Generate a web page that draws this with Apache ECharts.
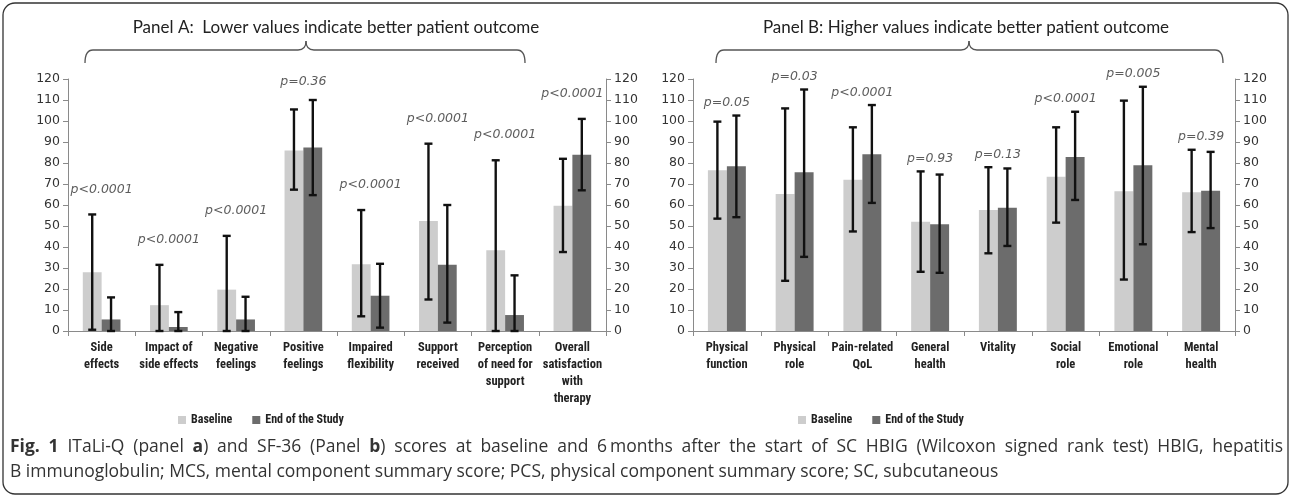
<!DOCTYPE html>
<html><head><meta charset="utf-8">
<script src="https://cdn.jsdelivr.net/npm/echarts@6/dist/echarts.min.js"></script>
<style>html,body{margin:0;padding:0;background:#fff}#c{width:1292px;height:498px}</style>
</head><body><div id="c"></div>
<script>
// ---- Panel A (ITaLi-Q) ----
const catsA = ['Side\neffects', 'Impact of\nside effects', 'Negative\nfeelings', 'Positive\nfeelings', 'Impaired\nflexibility', 'Support\nreceived', 'Perception\nof need for\nsupport', 'Overall\nsatisfaction\nwith\ntherapy'];
const baseA = [28, 12.3, 19.7, 86, 31.8, 52.4, 38.5, 59.7];
const baseAHigh = [55.5, 31.5, 45.3, 105.5, 57.6, 89.2, 81.3, 82];
const baseALow = [0.6, 0, 0, 67.3, 7, 15, 0, 37.6];
const endA = [5.5, 1.9, 5.5, 87.4, 16.8, 31.6, 7.6, 83.9];
const endAHigh = [16, 9, 16.3, 110, 32, 60, 26.5, 101];
const endALow = [0, 0, 0, 64.7, 1.6, 4, 0, 67];
const pA = ['p<0.0001', 'p<0.0001', 'p<0.0001', 'p=0.36', 'p<0.0001', 'p<0.0001', 'p<0.0001', 'p<0.0001'];

// ---- Panel B (SF-36) ----
const catsB = ['Physical\nfunction', 'Physical\nrole', 'Pain-related\nQoL', 'General\nhealth', 'Vitality', 'Social\nrole', 'Emotional\nrole', 'Mental\nhealth'];
const baseB = [76.6, 65.2, 72, 52, 57.6, 73.5, 66.6, 66.1];
const baseBHigh = [99.7, 106, 97, 76, 78, 97, 109.7, 86.3];
const baseBLow = [53.5, 23.9, 47.4, 28.2, 37, 51.6, 24.5, 47.1];
const endB = [78.5, 75.6, 84.2, 50.8, 58.7, 82.9, 78.9, 66.8];
const endBHigh = [102.6, 115, 107.6, 74.5, 77.4, 104.4, 116.3, 85.3];
const endBLow = [54.2, 35.3, 61, 27.7, 40.5, 62.4, 41.3, 49];
const pB = ['p=0.05', 'p=0.03', 'p<0.0001', 'p=0.93', 'p=0.13', 'p<0.0001', 'p=0.005', 'p=0.39'];

const yTicks = [0, 120, 10]; // min, max, interval

const titleA = 'Panel A:  Lower values indicate better patient outcome';
const titleB = 'Panel B: Higher values indicate better patient outcome';
const seriesNames = ['Baseline', 'End of the Study'];
// caption: words as [text, bold] pieces
const captionLine1 = [
  [['Fig.', 1]], [['1', 1]], [['ITaLi-Q', 0]], [['(panel', 0]], [['a', 1], [')', 0]], [['and', 0]], [['SF-36', 0]],
  [['(Panel', 0]], [['b', 1], [')', 0]], [['scores', 0]], [['at', 0]], [['baseline', 0]], [['and', 0]], [['6\u2009months', 0]],
  [['after', 0]], [['the', 0]], [['start', 0]], [['of', 0]], [['SC', 0]], [['HBIG', 0]], [['(Wilcoxon', 0]], [['signed', 0]],
  [['rank', 0]], [['test)', 0]], [['HBIG,', 0]], [['hepatitis', 0]]
];
const captionLine2 = 'B immunoglobulin; MCS, mental component summary score; PCS, physical component summary score; SC, subcutaneous';

// ---- styling ----
const NARROW = '"Liberation Sans Narrow","Arial Narrow","Roboto Condensed",sans-serif';
const AXISFONT = '"DejaVu Sans",Verdana,sans-serif';
const CAPFONT = '"Open Sans","Noto Sans",sans-serif';
const CAPSIZE = 17.5;
const C_BASE = '#cdcdcd', C_END = '#6c6c6c', C_AXIS = '#8a8a8a';

const chart = echarts.init(document.getElementById('c'), null, {renderer: 'canvas'});

const grids = [
  {left: 68, right: 686, top: 79, bottom: 167},
  {left: 693, right: 57, top: 79, bottom: 167}
];

function xAx(cats, gi) {
  return {
    type: 'category', gridIndex: gi, data: cats,
    axisLine: {lineStyle: {color: C_AXIS, width: 1}},
    axisTick: {show: true, length: 5, lineStyle: {color: C_AXIS}},
    axisLabel: {interval: 0, margin: 8, color: '#222', fontFamily: NARROW, fontWeight: 'bold',
                fontSize: 12.5, lineHeight: 17}
  };
}
function yAx(gi, pos) {
  return {
    type: 'value', gridIndex: gi, position: pos, min: yTicks[0], max: yTicks[1], interval: yTicks[2],
    splitLine: {show: false},
    axisLine: {show: true, lineStyle: {color: C_AXIS}},
    axisTick: {show: true, length: 5, lineStyle: {color: C_AXIS}},
    axisLabel: {color: '#333', fontFamily: AXISFONT, fontSize: 12.5, margin: 8}
  };
}
function barS(name, gi, vals, color) {
  return {
    name, type: 'bar', xAxisIndex: gi, yAxisIndex: gi * 2, data: vals,
    barWidth: '28%', barGap: '0%', itemStyle: {color}, z: 2, silent: true
  };
}
function errS(gi, lo, hi, sign) {
  return {
    type: 'custom', xAxisIndex: gi, yAxisIndex: gi * 2, z: 5, silent: true,
    data: lo.map((l, i) => [i, l, hi[i]]),
    encode: {x: 0, y: [1, 2]},
    renderItem: function (params, api) {
      const i = api.value(0);
      const top = api.coord([i, api.value(2)]);
      const bot = api.coord([i, api.value(1)]);
      const bw = api.size([1, 0])[0];
      const x = top[0] + sign * bw * 0.14;
      const c = 4;
      const st = {stroke: '#111', lineWidth: 2.4};
      return {type: 'group', children: [
        {type: 'line', shape: {x1: x, y1: top[1], x2: x, y2: bot[1]}, style: st},
        {type: 'line', shape: {x1: x - c, y1: top[1], x2: x + c, y2: top[1]}, style: st},
        {type: 'line', shape: {x1: x - c, y1: bot[1], x2: x + c, y2: bot[1]}, style: st}
      ]};
    }
  };
}
function pS(gi, labels, hiA, hiB, offset, cap) {
  return {
    type: 'scatter', xAxisIndex: gi, yAxisIndex: gi * 2, z: 6, silent: true, clip: false,
    symbolSize: 0,
    data: labels.map((t, i) => ({value: [i, Math.min(Math.max(hiA[i], hiB[i]) + offset, cap)], name: t})),
    label: {show: true, position: 'inside', formatter: p => p.name, color: '#333',
            fontFamily: AXISFONT, fontStyle: 'italic', fontSize: 12.5}
  };
}

const legendCommon = {
  data: seriesNames, icon: 'rect', itemWidth: 8, itemHeight: 8, itemGap: 20,
  textStyle: {fontFamily: NARROW, fontWeight: 'bold', fontSize: 12, color: '#222'},
  selectedMode: false
};

// curly brace made of bezier pieces + lines
function brace(x0, xm, x1, yLine, yTip, yEnd) {
  const st = {fill: 'none', stroke: '#555', lineWidth: 1.3};
  const r = 8;
  return [
    {type: 'bezierCurve', silent: true, shape: {x1: x0, y1: yEnd, x2: x0 + r, y2: yLine, cpx1: x0, cpy1: yLine}, style: st},
    {type: 'line', silent: true, shape: {x1: x0 + r, y1: yLine, x2: xm - r, y2: yLine}, style: st},
    {type: 'bezierCurve', silent: true, shape: {x1: xm - r, y1: yLine, x2: xm, y2: yTip, cpx1: xm, cpy1: yLine}, style: st},
    {type: 'bezierCurve', silent: true, shape: {x1: xm, y1: yTip, x2: xm + r, y2: yLine, cpx1: xm, cpy1: yLine}, style: st},
    {type: 'line', silent: true, shape: {x1: xm + r, y1: yLine, x2: x1 - r, y2: yLine}, style: st},
    {type: 'bezierCurve', silent: true, shape: {x1: x1 - r, y1: yLine, x2: x1, y2: yEnd, cpx1: x1, cpy1: yLine}, style: st}
  ];
}

// justified caption line: one text element per word
function justifiedLine(words, xStart, xEnd, y) {
  const ctx = document.createElement('canvas').getContext('2d');
  const widths = words.map(w => w.reduce((s, p) => {
    ctx.font = (p[1] ? 'bold ' : '') + CAPSIZE + 'px ' + CAPFONT;
    return s + ctx.measureText(p[0]).width;
  }, 0));
  const total = widths.reduce((a, b) => a + b, 0);
  const gap = (xEnd - xStart - total) / (words.length - 1);
  const els = [];
  let x = xStart;
  words.forEach((w, i) => {
    const txt = w.map(p => p[1] ? '{b|' + p[0] + '}' : '{n|' + p[0] + '}').join('');
    els.push({type: 'text', x: x, y: y, silent: true,
      style: {text: txt, verticalAlign: 'middle', fill: '#333',
              rich: {b: {fontFamily: CAPFONT, fontSize: CAPSIZE, fontWeight: 'bold', fill: '#333'},
                     n: {fontFamily: CAPFONT, fontSize: CAPSIZE, fill: '#333'}}}});
    x += widths[i] + gap;
  });
  return els;
}

const option = {
  animation: false,
  backgroundColor: '#fff',
  grid: grids,
  xAxis: [xAx(catsA, 0), xAx(catsB, 1)],
  yAxis: [yAx(0, 'left'), yAx(0, 'right'), yAx(1, 'left'), yAx(1, 'right')],
  legend: [
    Object.assign({left: 173, top: 409}, legendCommon),
    Object.assign({left: 793, top: 409}, legendCommon)
  ],
  series: [
    barS(seriesNames[0], 0, baseA, C_BASE), barS(seriesNames[1], 0, endA, C_END),
    errS(0, baseALow, baseAHigh, -1), errS(0, endALow, endAHigh, 1),
    pS(0, pA, baseAHigh, endAHigh, 12, 118.5),
    barS(seriesNames[0], 1, baseB, C_BASE), barS(seriesNames[1], 1, endB, C_END),
    errS(1, baseBLow, baseBHigh, -1), errS(1, endBLow, endBHigh, 1),
    pS(1, pB, baseBHigh, endBHigh, 6, 130)
  ],
  graphic: [
    {type: 'rect', shape: {x: 3, y: 3, width: 1285, height: 491, r: 12}, silent: true,
     style: {fill: 'none', stroke: '#333', lineWidth: 1.3}},
    {type: 'text', x: 336, y: 28, silent: true,
     style: {text: titleA, fontFamily: 'Lato, "Open Sans", sans-serif', fontSize: 17, fill: '#222',
             align: 'center', verticalAlign: 'middle'}},
    {type: 'text', x: 966, y: 28, silent: true,
     style: {text: titleB, fontFamily: 'Lato, "Open Sans", sans-serif', fontSize: 17, fill: '#222',
             align: 'center', verticalAlign: 'middle'}}
  ].concat(
    brace(85, 306, 525, 50, 41, 63), brace(716, 969, 1223, 50, 41, 63),
    justifiedLine(captionLine1, 10, 1283, 447),
    [{type: 'text', x: 10, y: 472, silent: true,
      style: {text: captionLine2, fontFamily: CAPFONT, fontSize: CAPSIZE, fill: '#333', verticalAlign: 'middle'}}]
  )
};
chart.setOption(option);
</script>
</body></html>
